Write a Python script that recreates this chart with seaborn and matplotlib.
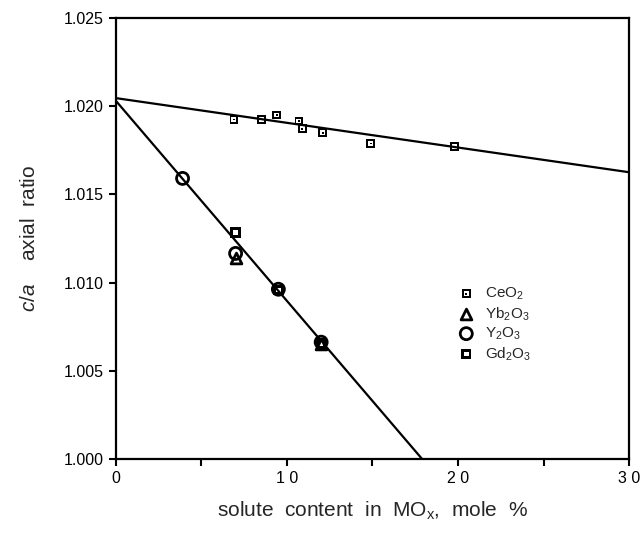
import numpy as np
import pandas as pd
import matplotlib
matplotlib.use("Agg")
import matplotlib.pyplot as plt
from matplotlib.path import Path
import seaborn as sns

# CeO2 data (mole %, c/a)
ceo2_x = [6.9, 8.5, 9.4, 10.7, 10.9, 12.1, 14.9, 19.8]
ceo2_y = [1.01924, 1.01924, 1.01949, 1.01915, 1.01871, 1.01848, 1.01788, 1.01769]

# trivalent oxides
yb2o3_x = [7.0, 12.0]
yb2o3_y = [1.01140, 1.00650]
y2o3_x = [3.9, 7.0, 9.5, 12.0]
y2o3_y = [1.01590, 1.01165, 1.00962, 1.00662]
gd2o3_x = [7.0, 9.5, 12.0]
gd2o3_y = [1.01284, 1.00958, 1.00655]

# fitted lines (end points)
ceo2_fit_x = [0, 30]
ceo2_fit_y = [1.02045, 1.01625]
tri_fit_x = [0, 17.9]
tri_fit_y = [1.02030, 1.00000]

x_ticks = [0, 5, 10, 15, 20, 25, 30]
x_labels = ["0", "", "1 0", "", "2 0", "", "3 0"]
y_ticks = [1.000, 1.005, 1.010, 1.015, 1.020, 1.025]
y_labels = ["1.000", "1.005", "1.010", "1.015", "1.020", "1.025"]


def ring_marker(outer, inner_scale, dot=0.0):
    # filled outline with a hole, optionally a dot in the centre
    verts, codes = [], []
    for v in outer:
        verts.append(v)
    codes += [Path.MOVETO] + [Path.LINETO] * (len(outer) - 2) + [Path.CLOSEPOLY]
    inner = [(x * inner_scale, y * inner_scale) for x, y in outer[::-1]]
    verts += inner
    codes += [Path.MOVETO] + [Path.LINETO] * (len(inner) - 2) + [Path.CLOSEPOLY]
    if dot > 0:
        d = [(-dot, -dot), (dot, -dot), (dot, dot), (-dot, dot), (-dot, -dot)]
        verts += d
        codes += [Path.MOVETO] + [Path.LINETO] * 3 + [Path.CLOSEPOLY]
    return Path(verts, codes)


sq = [(-1, -1), (1, -1), (1, 1), (-1, 1), (-1, -1)]
ceo2_marker = ring_marker(sq, 0.55, dot=0.2)
gd_marker = ring_marker(sq, 0.45)

sns.set_theme(style="ticks")
plt.rcParams["font.family"] = ["Liberation Sans", "DejaVu Sans"]
plt.rcParams["mathtext.fontset"] = "custom"
plt.rcParams["mathtext.rm"] = "Liberation Sans"
plt.rcParams["mathtext.it"] = "Liberation Sans:italic"

fig = plt.figure(figsize=(6.4, 5.4), dpi=100)
ax = fig.add_axes([0.181, 0.15, 0.802, 0.817])

sns.lineplot(x=ceo2_fit_x, y=ceo2_fit_y, ax=ax, color="black", lw=1.6)
sns.lineplot(x=tri_fit_x, y=tri_fit_y, ax=ax, color="black", lw=1.6)

sns.scatterplot(x=ceo2_x, y=ceo2_y, ax=ax, marker=ceo2_marker, s=40,
                color="black", edgecolor="none", label="CeO$_2$", zorder=3)
sns.scatterplot(x=yb2o3_x, y=yb2o3_y, ax=ax, marker="^", s=60,
                facecolor="white", edgecolor="black", linewidth=2,
                label="Yb$_2$O$_3$", zorder=3)
sns.scatterplot(x=y2o3_x, y=y2o3_y, ax=ax, marker="o", s=75,
                facecolor="none", edgecolor="black", linewidth=2,
                label="Y$_2$O$_3$", zorder=4)
sns.scatterplot(x=gd2o3_x, y=gd2o3_y, ax=ax, marker=gd_marker, s=55,
                color="black", edgecolor="none", label="Gd$_2$O$_3$", zorder=4)

ax.set_xlim(0, 30)
ax.set_ylim(1.000, 1.025)
ax.set_xticks(x_ticks)
ax.set_xticklabels(x_labels)
ax.set_yticks(y_ticks)
ax.set_yticklabels(y_labels)
ax.tick_params(direction="out", length=5, width=1.5, labelsize=11.5, colors="black")
for s in ax.spines.values():
    s.set_linewidth(1.6)
    s.set_color("black")

ax.set_xlabel("solute  content  in  MO$_\\mathrm{x}$,  mole  %", fontsize=15, labelpad=10)
ax.set_ylabel("$\\it{c/a}$    axial  ratio", fontsize=15, labelpad=18)

ax.legend(loc="upper left", bbox_to_anchor=(0.65, 0.41), frameon=False,
          fontsize=11, handletextpad=0.6, labelspacing=0.2, borderpad=0,
          handlelength=1.2)

fig.savefig("out.png", dpi=100)
